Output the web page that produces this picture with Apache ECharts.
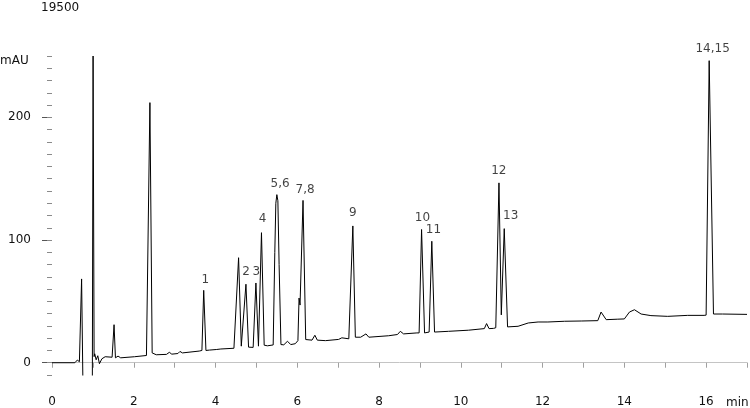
<!DOCTYPE html>
<html>
<head>
<meta charset="utf-8">
<script src="https://cdn.jsdelivr.net/npm/echarts@6/dist/echarts.min.js"></script>
<style>
  html, body { margin: 0; padding: 0; background: #fff; }
  #chart { width: 750px; height: 408px; }
</style>
</head>
<body>
<div id="chart"></div>
<script>
// retention time (min) and absorbance (mAU)
var times = [
  0.00, 0.56, 0.62, 0.67, 0.70, 0.724, 0.765, 0.985, 1.005, 1.03,
  1.045, 1.08, 1.12, 1.16, 1.22, 1.30, 1.47, 1.494, 1.518, 1.552,
  1.615, 1.68, 2.02, 2.31, 2.335, 2.395, 2.45, 2.55, 2.80, 2.87,
  2.93, 3.08, 3.13, 3.19, 3.60, 3.667, 3.711, 3.765, 3.85, 4.03,
  4.077, 4.13, 4.45, 4.483, 4.564, 4.63, 4.744, 4.808, 4.92, 4.988,
  5.05, 5.124, 5.19, 5.27, 5.41, 5.45, 5.475, 5.50, 5.525, 5.555,
  5.60, 5.67, 5.76, 5.84, 5.95, 6.015, 6.043, 6.067, 6.14, 6.206,
  6.36, 6.43, 6.49, 6.69, 7.01, 7.09, 7.26, 7.30, 7.359, 7.42,
  7.55, 7.68, 7.75, 8.236, 8.45, 8.52, 8.60, 8.925, 8.98, 9.04,
  9.113, 9.225, 9.29, 9.357, 9.698, 10.185, 10.575, 10.63, 10.69, 10.80,
  10.855, 10.933, 10.99, 11.062, 11.143, 11.40, 11.65, 11.89, 12.13, 12.54,
  12.946, 13.35, 13.43, 13.556, 13.84, 14.0, 14.125, 14.247, 14.41, 14.65,
  15.06, 15.55, 15.95, 16.0, 16.075, 16.18, 16.4, 17.0
];
var signal = [
  0, 0, 2.2, 0.8, 0.8, 68.3, -40, -40, 250, 5,
  7.3, 2.4, 5.7, -0.8, 3.2, 4.9, 4.5, 4.5, 31, 4,
  5.4, 4, 4.9, 5.9, 6.2, 212, 8, 6.5, 6.8, 8.5,
  7, 7.5, 9.2, 8, 9.5, 10, 59, 10, 10.3, 10.8,
  12.2, 11.2, 11.8, 12, 85.6, 13.5, 64, 12.7, 12.5, 65,
  13.5, 106, 14.3, 13.8, 14.5, 90, 130, 137, 132, 80,
  14.8, 14.6, 17.5, 14.8, 15.5, 18, 52.7, 47, 132.3, 18.9,
  18.4, 22.4, 18.4, 18, 19, 20.3, 19.5, 20.8, 111.5, 20.8,
  20.8, 23.5, 20.8, 22, 23, 25.6, 23.5, 24.3, 24.3, 108.6,
  24.3, 25, 99, 25, 25.6, 26.5, 27.8, 31.9, 27.8, 28,
  28.5, 146.6, 39, 109.3, 29.2, 29.7, 32.4, 33.2, 33.2, 33.8,
  34, 34.3, 41.3, 35.1, 35.5, 35.7, 41.3, 43.2, 39.7, 38.4,
  37.8, 38.6, 38.6, 38.8, 246.2, 39.7, 39.7, 39.4
];

// peak names and where their labels sit (time, mAU)
var peakNames = ['1', '2', '3', '4', '5,6', '7,8', '9', '10', '11', '12', '13', '14,15'];
var peakLabelTimes = [3.75, 4.75, 5.0, 5.15, 5.58, 6.19, 7.36, 9.06, 9.33, 10.93, 11.22, 16.16];
var peakLabelValues = [67.5, 74.3, 74.3, 117.4, 145.8, 141.2, 122, 118.3, 108, 156.6, 119.6, 255.7];

var yLabelValues = [0, 100, 200];

var trace = [];
for (var i = 0; i < times.length; i++) trace.push([times[i], signal[i]]);
var peaks = [];
for (var j = 0; j < peakNames.length; j++) peaks.push({name: peakNames[j], value: [peakLabelTimes[j], peakLabelValues[j]]});

var font = 'DejaVu Sans';
var chart = echarts.init(document.getElementById('chart'));
var option = {
  animation: false,
  textStyle: {fontFamily: font},
  grid: {left: 52, right: 0, top: 56, bottom: 31},
  graphic: [
    {type: 'text', left: 41, top: 2, style: {text: '19500', font: '12px "DejaVu Sans"', fill: '#111'}},
    {type: 'text', left: 0, top: 55, style: {text: 'mAU', font: '12px "DejaVu Sans"', fill: '#111'}},
    {type: 'text', left: 726, top: 397, style: {text: 'min', font: '12px "DejaVu Sans"', fill: '#111'}}
  ],
  xAxis: {
    type: 'value', min: 0, max: 17, interval: 1, offset: 10,
    axisLine: {lineStyle: {color: '#c4c4c4', width: 1}},
    axisTick: {length: 5, lineStyle: {color: '#a0a0a0'}},
    axisLabel: {
      margin: 11, color: '#111', fontSize: 12, fontFamily: font,
      formatter: function (v) { return (v % 2 === 0 && v < 17) ? String(v) : ''; }
    },
    splitLine: {show: false}
  },
  yAxis: [
    {
      type: 'value', position: 'left', min: -10, max: 250,
      axisLine: {show: false},
      axisTick: {show: true, length: 10, customValues: yLabelValues, lineStyle: {color: '#555'}},
      axisLabel: {margin: 21, color: '#111', fontSize: 12, fontFamily: font, customValues: yLabelValues},
      splitLine: {show: false}
    },
    {
      type: 'value', position: 'left', offset: 0, min: -10, max: 250, interval: 10,
      axisLine: {show: false},
      axisTick: {show: true, length: 5, lineStyle: {color: '#8a8a8a'}},
      axisLabel: {show: false},
      splitLine: {show: false}
    }
  ],
  series: [
    {
      type: 'line', data: trace, showSymbol: false, symbol: 'none',
      lineStyle: {color: '#000', width: 1}, clip: true, silent: true
    },
    {
      type: 'scatter', data: peaks, symbolSize: 1, clip: false, silent: true,
      itemStyle: {color: 'rgba(0,0,0,0)'},
      label: {
        show: true, position: 'inside', color: '#111', fontSize: 12, fontFamily: font,
        formatter: function (p) { return p.name; }
      }
    }
  ]
};
chart.setOption(option);
</script>
</body>
</html>
